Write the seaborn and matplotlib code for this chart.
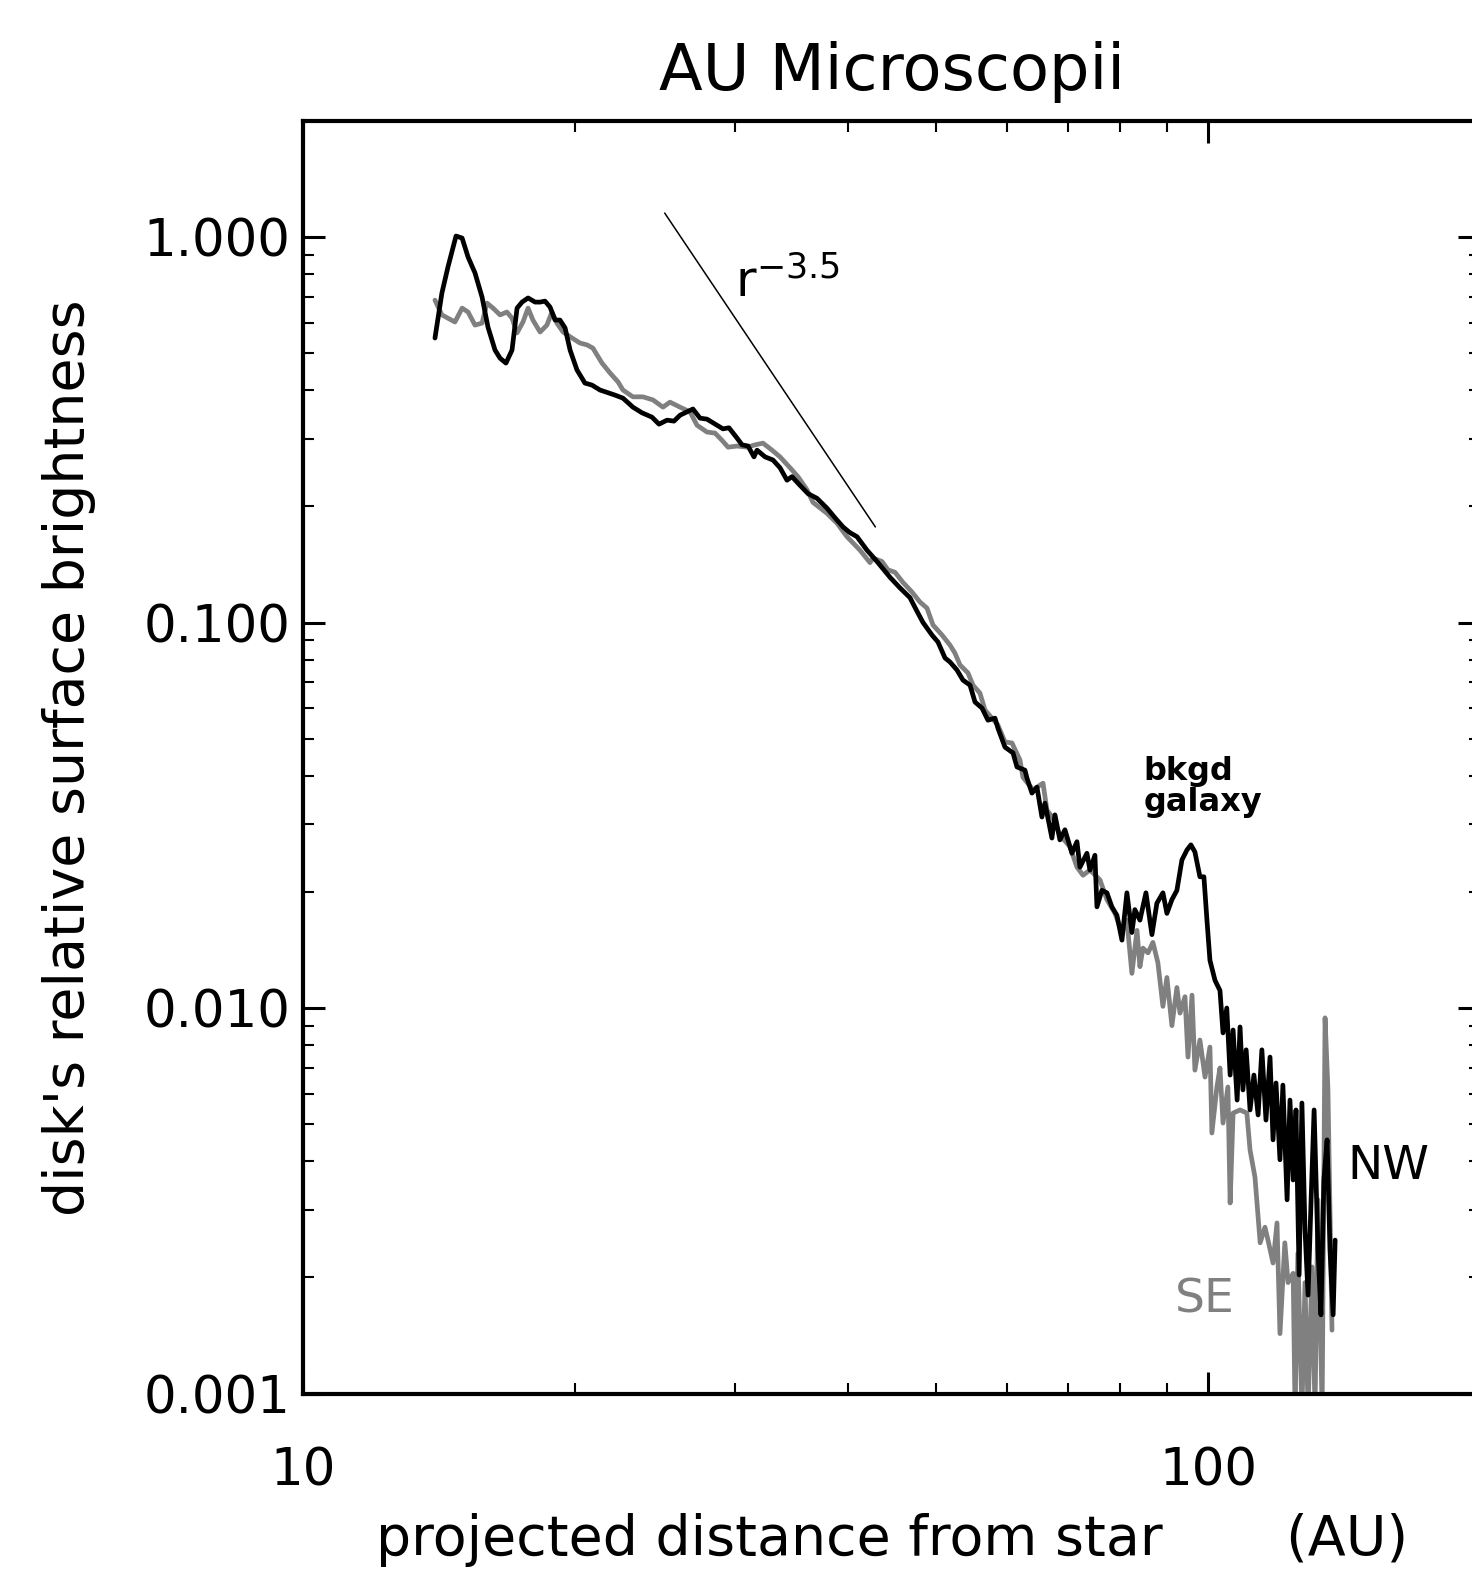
import matplotlib
matplotlib.use("Agg")
import matplotlib.pyplot as plt
import matplotlib.ticker as mticker
import pandas as pd
import seaborn as sns

# ---- values (AU, relative surface brightness) ----
nw_au = [13.99, 14.24, 14.46, 14.76, 14.99, 15.22, 15.49, 15.77, 16.01, 16.30,
         16.51, 16.76, 17.02, 17.24, 17.46, 17.73, 18.05, 18.28, 18.51, 18.75,
         18.99, 19.23, 19.48, 19.73, 20.08, 20.49, 20.86, 21.29, 22.12, 22.57,
         23.15, 23.69, 24.30, 24.74, 25.25, 25.70, 26.10, 26.97, 27.46, 27.95,
         28.67, 29.11, 29.56, 30.17, 30.56, 31.03, 31.50, 31.75, 32.40, 33.06,
         33.66, 34.26, 34.70, 35.41, 36.14, 36.98, 37.93, 38.71, 39.51, 40.22,
         40.94, 42.00, 43.08, 44.53, 45.67, 46.85, 47.69, 48.43, 49.55, 50.31,
         51.22, 51.87, 52.80, 53.61, 54.58, 55.28, 56.27, 57.13, 58.16, 58.60,
         59.66, 60.89, 61.51, 62.77, 63.09, 63.90, 64.72, 65.54, 66.05, 67.23,
         67.75, 68.61, 69.49, 70.74, 71.65, 72.20, 73.49, 74.06, 75.00, 75.39,
         76.35, 77.33, 78.31, 79.32, 80.34, 81.36, 82.40, 83.03, 84.10, 85.40,
         86.71, 87.81, 89.17, 90.08, 91.23, 92.40, 93.58, 94.79, 95.75, 96.73,
         97.97, 98.97, 99.74, 100.5, 101.8, 103.1, 103.9, 104.9, 105.8, 106.6,
         107.7, 108.5, 109.3, 110.2, 111.3, 112.4, 113.6, 114.7, 115.9, 117.1,
         118.0, 118.9, 120.1, 121.0, 122.3, 123.2, 124.2, 125.1, 126.1, 127.0,
         128.0, 129.0, 130.0, 131.0, 132.3, 133.3, 134.3, 135.4, 136.4, 137.5,
         138.2]
nw_sb = [0.547, 0.716, 0.836, 1.006, 0.994, 0.887, 0.807, 0.699, 0.584, 0.509,
         0.485, 0.471, 0.509, 0.654, 0.678, 0.695, 0.678, 0.678, 0.682, 0.658,
         0.609, 0.609, 0.581, 0.509, 0.452, 0.418, 0.413, 0.401, 0.389, 0.382,
         0.362, 0.350, 0.341, 0.327, 0.335, 0.333, 0.345, 0.358, 0.339, 0.337,
         0.325, 0.318, 0.320, 0.301, 0.289, 0.287, 0.269, 0.280, 0.269, 0.264,
         0.252, 0.234, 0.239, 0.227, 0.216, 0.210, 0.198, 0.187, 0.177, 0.171,
         0.167, 0.154, 0.144, 0.131, 0.123, 0.116, 0.107, 0.100, 0.0928, 0.0890,
         0.0809, 0.0790, 0.0753, 0.0709, 0.0688, 0.0622, 0.0600, 0.0558, 0.0565, 0.0532,
         0.0475, 0.0459, 0.0422, 0.0414, 0.0395, 0.0361, 0.0374, 0.0313, 0.0340, 0.0276,
         0.0317, 0.0273, 0.0290, 0.0252, 0.0270, 0.0232, 0.0252, 0.0228, 0.0249, 0.0183,
         0.0202, 0.0199, 0.0183, 0.0174, 0.0150, 0.0199, 0.0157, 0.0180, 0.0169, 0.0199,
         0.0155, 0.0187, 0.0199, 0.0176, 0.0191, 0.0202, 0.0242, 0.0257, 0.0265, 0.0254,
         0.0219, 0.0219, 0.0169, 0.0133, 0.0118, 0.0111, 0.00862, 0.0100, 0.00670, 0.00877,
         0.00577, 0.00893, 0.00613, 0.00779, 0.00544, 0.00670, 0.00528, 0.00779, 0.00512, 0.00746,
         0.00455, 0.00639, 0.00404, 0.00631, 0.00318, 0.00577, 0.00358, 0.00544, 0.00203, 0.00567,
         0.00266, 0.00180, 0.00318, 0.00544, 0.00236, 0.00160, 0.00358, 0.00455, 0.00236, 0.00160,
         0.00250]

se_au = [13.99, 14.24, 14.46, 14.72, 14.99, 15.22, 15.49, 15.77, 15.97, 16.22,
         16.51, 16.80, 17.02, 17.24, 17.50, 17.73, 17.95, 18.28, 18.60, 18.84,
         19.08, 19.38, 19.83, 20.23, 20.60, 20.91, 21.40, 21.84, 22.29, 22.57,
         23.15, 23.75, 24.36, 24.99, 25.44, 26.10, 26.77, 27.25, 27.95, 28.53,
         29.04, 29.49, 30.17, 30.95, 31.58, 32.23, 32.98, 33.66, 34.53, 35.23,
         36.05, 36.60, 37.93, 38.91, 39.91, 41.26, 42.32, 42.64, 43.63, 44.30,
         45.10, 46.03, 47.09, 48.06, 48.92, 49.68, 50.83, 51.87, 52.53, 53.21,
         54.30, 55.00, 55.98, 56.70, 57.72, 58.60, 59.66, 60.73, 61.98, 62.45,
         64.06, 65.72, 66.39, 67.41, 68.61, 70.39, 71.65, 72.76, 74.06, 75.97,
         77.33, 78.93, 80.34, 81.36, 82.40, 83.48, 84.10, 84.76, 85.84, 86.93,
         88.04, 89.17, 90.08, 91.23, 92.40, 93.13, 94.32, 95.04, 96.02, 96.73,
         97.97, 99.25, 100.5, 101.0, 102.3, 103.1, 103.9, 105.2, 105.8, 106.6,
         108.5, 110.4, 111.3, 112.7, 114.2, 115.6, 116.5, 118.0, 119.2, 120.1,
         121.6, 122.6, 124.2, 124.8, 125.7, 127.0, 128.0, 129.0, 130.3, 131.3,
         132.3, 133.7, 134.7, 135.7, 137.1]
se_sb = [0.686, 0.628, 0.616, 0.602, 0.654, 0.639, 0.591, 0.598, 0.674, 0.654,
         0.628, 0.639, 0.616, 0.564, 0.602, 0.654, 0.609, 0.567, 0.591, 0.639,
         0.598, 0.567, 0.547, 0.531, 0.525, 0.515, 0.471, 0.444, 0.421, 0.401,
         0.385, 0.385, 0.378, 0.362, 0.373, 0.362, 0.352, 0.325, 0.312, 0.310,
         0.297, 0.285, 0.287, 0.285, 0.289, 0.292, 0.280, 0.269, 0.252, 0.239,
         0.221, 0.205, 0.192, 0.181, 0.167, 0.154, 0.143, 0.147, 0.144, 0.137,
         0.135, 0.127, 0.120, 0.113, 0.109, 0.0985, 0.0928, 0.0874, 0.0833, 0.0776,
         0.0740, 0.0688, 0.0656, 0.0593, 0.0565, 0.0542, 0.0490, 0.0487, 0.0440, 0.0397,
         0.0368, 0.0383, 0.0326, 0.0311, 0.0281, 0.0262, 0.0232, 0.0221, 0.0228, 0.0215,
         0.0191, 0.0176, 0.0157, 0.0169, 0.0123, 0.0159, 0.0128, 0.0143, 0.0139, 0.0148,
         0.0131, 0.0101, 0.0120, 0.0090, 0.0113, 0.0097, 0.0107, 0.00746, 0.0108, 0.00690,
         0.00826, 0.00662, 0.00792, 0.00474, 0.00624, 0.00699, 0.00503, 0.00624, 0.00312, 0.00534,
         0.00544, 0.00534, 0.00428, 0.00364, 0.00246, 0.00270, 0.00250, 0.00218, 0.00277, 0.00143,
         0.00246, 0.00194, 0.00205, 0.0009, 0.00231, 0.0009, 0.00194, 0.0009, 0.00213, 0.0009,
         0.00318, 0.0009, 0.00943, 0.00613, 0.00146]

# r^-3.5 guide line
slope_au = [25.1, 42.9]
slope_sb = [1.154, 0.177]

y_ticks = [0.001, 0.01, 0.1, 1.0]
x_ticks = [10, 100]

# ---- style ----
sns.set_theme(style="ticks", rc={"axes.linewidth": 3.0})
plt.rcParams['font.family'] = ['DejaVu Sans']
plt.rcParams['text.color'] = 'black'
plt.rcParams['axes.labelcolor'] = 'black'

df = pd.concat([
    pd.DataFrame({'au': se_au, 'sb': se_sb, 'side': 'SE'}),
    pd.DataFrame({'au': nw_au, 'sb': nw_sb, 'side': 'NW'}),
], ignore_index=True)

W, H = 1472, 1573
fig = plt.figure(figsize=(W / 100, H / 100), dpi=100)
ax = fig.add_axes([303 / W, 1 - 1393.5 / H, 1177.4 / W, 1272.5 / H])

sns.lineplot(data=df, x='au', y='sb', hue='side',
             palette={'SE': '#808080', 'NW': 'black'},
             estimator=None, sort=False, legend=False, linewidth=3.4, ax=ax)
sns.lineplot(x=slope_au, y=slope_sb, color='black', linewidth=1.1,
             estimator=None, sort=False, ax=ax)

ax.set_xscale('log')
ax.set_yscale('log')
ax.set_xlim(10, 200)
ax.set_ylim(0.001, 2.0)

ax.xaxis.set_major_locator(mticker.FixedLocator(x_ticks))
ax.xaxis.set_major_formatter(mticker.FuncFormatter(lambda v, p: f"{v:g}"))
ax.xaxis.set_minor_locator(mticker.LogLocator(base=10, subs=range(2, 10)))
ax.xaxis.set_minor_formatter(mticker.NullFormatter())
ax.yaxis.set_major_locator(mticker.FixedLocator(y_ticks))
ax.yaxis.set_major_formatter(mticker.FormatStrFormatter('%.3f'))
ax.yaxis.set_minor_locator(mticker.LogLocator(base=10, subs=range(2, 10)))
ax.yaxis.set_minor_formatter(mticker.NullFormatter())

ax.tick_params(which='both', direction='in', top=True, right=True, colors='black')
ax.tick_params(which='major', length=16, width=2.2, labelsize=37)
ax.tick_params(which='minor', length=8, width=1.5)
ax.tick_params(axis='x', which='major', pad=38)
ax.tick_params(axis='y', which='major', pad=9)
for s in ax.spines.values():
    s.set_color('black')
    s.set_linewidth(3.0)

ax.set_title('AU Microscopii', fontsize=46, pad=22, color='black')
ax.set_xlabel('projected distance from star       (AU)', fontsize=40, labelpad=12)
ax.set_ylabel("disk's relative surface brightness", fontsize=40, labelpad=34)

ax.text(30.0, 0.70, r'r$^{-3.5}$', fontsize=36, ha='left', va='baseline')
ax.text(84.8, 0.0374, 'bkgd\ngalaxy', fontsize=23, fontweight='bold',
        ha='left', va='center', linespacing=1.0)
ax.text(142.5, 0.00387, 'NW', fontsize=34, ha='left', va='center', color='black')
ax.text(91.9, 0.00175, 'SE', fontsize=34, ha='left', va='center', color='#808080')

fig.savefig('out.png', dpi=100)
